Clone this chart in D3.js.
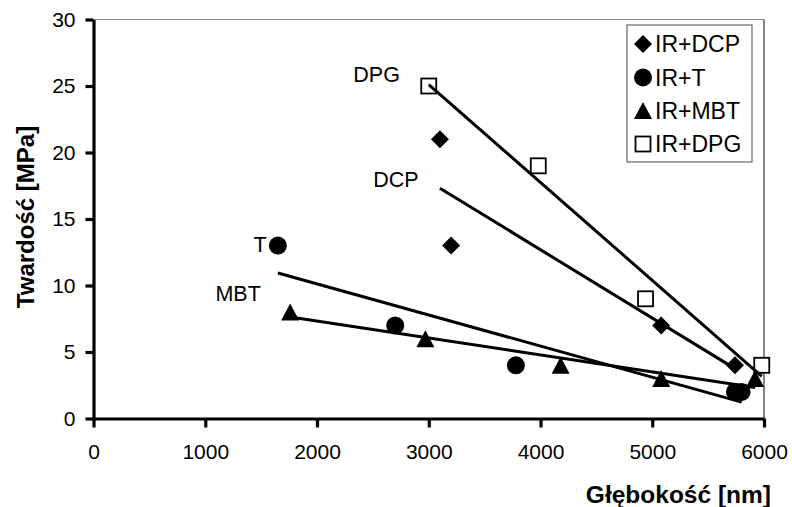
<!DOCTYPE html>
<html><head><meta charset="utf-8">
<script src="https://cdn.jsdelivr.net/npm/d3@7"></script>
<style>body{margin:0;background:#fff}svg{display:block}</style>
</head><body><svg id="c" width="792" height="507"></svg>
<script>
// ---- data ----
const seriesNames = ["IR+DCP", "IR+T", "IR+MBT", "IR+DPG"];
const dcpX = [3100, 3200, 5080, 5740];
const dcpY = [21, 13, 7, 4];
const tX = [1650, 2700, 3780, 5740, 5800];
const tY = [13, 7, 4, 2, 2];
const mbtX = [1760, 2970, 4180, 5080, 5920];
const mbtY = [8, 6, 4, 3, 3];
const dpgX = [3000, 3980, 4940, 5980];
const dpgY = [25, 19, 9, 4];
const xTicks = [0, 1000, 2000, 3000, 4000, 5000, 6000];
const yTicks = [0, 5, 10, 15, 20, 25, 30];
const labelText = ["DPG", "DCP", "T", "MBT"];
const labelX = [2325, 2504, 1431, 1091];
const labelY = [25.3, 17.4, 12.5, 8.85];

// ---- layout ----
const L = 93.5, R = 764, T = 19.5, B = 418.5;
const FONT = "Liberation Sans, Arial, sans-serif";
const svg = d3.select("#c");
const x = d3.scaleLinear().domain([0, 6000]).range([L, R]);
const y = d3.scaleLinear().domain([0, 30]).range([B, T]);

// plot frame (thin top/right)
svg.append("line").attr("x1", L).attr("x2", R).attr("y1", T).attr("y2", T)
  .attr("stroke", "#8a8a8a").attr("stroke-width", 1.2);
svg.append("line").attr("x1", R).attr("x2", R).attr("y1", T).attr("y2", B)
  .attr("stroke", "#333").attr("stroke-width", 1.2);

// axes
const gx = svg.append("g").attr("transform", `translate(0,${B})`)
  .call(d3.axisBottom(x).tickValues(xTicks).tickSize(9).tickSizeOuter(0).tickPadding(17).tickFormat(d3.format("d")));
const gy = svg.append("g").attr("transform", `translate(${L},0)`)
  .call(d3.axisLeft(y).tickValues(yTicks).tickSize(8).tickSizeOuter(0).tickPadding(10));
[gx, gy].forEach(g => {
  g.selectAll("path.domain").attr("stroke", "#000").attr("stroke-width", 3.2);
  g.selectAll(".tick line").attr("stroke", "#000").attr("stroke-width", 3.2);
  g.selectAll(".tick text").attr("font-family", FONT).attr("font-size", 21).attr("fill", "#000");
});

// axis titles
svg.append("text").attr("x", 771).attr("y", 503).attr("text-anchor", "end")
  .attr("font-family", FONT).attr("font-size", 24.5).attr("font-weight", "bold").text("Głębokość [nm]");
svg.append("text").attr("transform", "translate(34,217) rotate(-90)").attr("text-anchor", "middle")
  .attr("font-family", FONT).attr("font-size", 24).attr("font-weight", "bold").text("Twardość [MPa]");

// marker drawing
function marker(g, kind) {
  if (kind === 0) {
    g.append("path").attr("d", d3.symbol().type(d3.symbolSquare).size(162)())
      .attr("transform", "rotate(45)").attr("fill", "#000");
  } else if (kind === 1) {
    g.append("circle").attr("r", 9).attr("fill", "#000");
  } else if (kind === 2) {
    g.append("path").attr("d", "M0,-8.5L9,8.5L-9,8.5Z").attr("fill", "#000");
  } else {
    g.append("rect").attr("x", -7.5).attr("y", -7.5).attr("width", 15).attr("height", 15)
      .attr("fill", "#fff").attr("stroke", "#000").attr("stroke-width", 1.8);
  }
}

const series = [
  { xs: dcpX, ys: dcpY },
  { xs: tX, ys: tY },
  { xs: mbtX, ys: mbtY },
  { xs: dpgX, ys: dpgY }
];

// markers
series.forEach((s, k) => {
  s.xs.forEach((xv, i) => {
    const g = svg.append("g").attr("transform", `translate(${x(xv)},${y(s.ys[i])})`);
    marker(g, k);
  });
});

// linear trend lines (least squares) from min to max x
series.forEach(s => {
  const n = s.xs.length;
  const mx = d3.mean(s.xs), my = d3.mean(s.ys);
  let sxy = 0, sxx = 0;
  for (let i = 0; i < n; i++) { sxy += (s.xs[i] - mx) * (s.ys[i] - my); sxx += (s.xs[i] - mx) ** 2; }
  const b = sxy / sxx, a = my - b * mx;
  const x0 = d3.min(s.xs), x1 = d3.max(s.xs);
  svg.append("line").attr("x1", x(x0)).attr("y1", y(a + b * x0)).attr("x2", x(x1)).attr("y2", y(a + b * x1))
    .attr("stroke", "#000").attr("stroke-width", 3);
});

// annotations
labelText.forEach((t, i) => {
  svg.append("text").attr("x", x(labelX[i])).attr("y", y(labelY[i]))
    .attr("font-family", FONT).attr("font-size", 21.5).text(t);
});

// legend
const lg = svg.append("g");
lg.append("rect").attr("x", 627).attr("y", 25).attr("width", 125).attr("height", 137)
  .attr("fill", "#fff").attr("stroke", "#666").attr("stroke-width", 1.2);
const legY = [44, 77.5, 110.5, 144];
seriesNames.forEach((nm, k) => {
  const g = lg.append("g").attr("transform", `translate(643,${legY[k]})`);
  marker(g, k);
  lg.append("text").attr("x", 655).attr("y", legY[k] + 8)
    .attr("font-family", FONT).attr("font-size", 23).text(nm);
});
</script></body></html>
